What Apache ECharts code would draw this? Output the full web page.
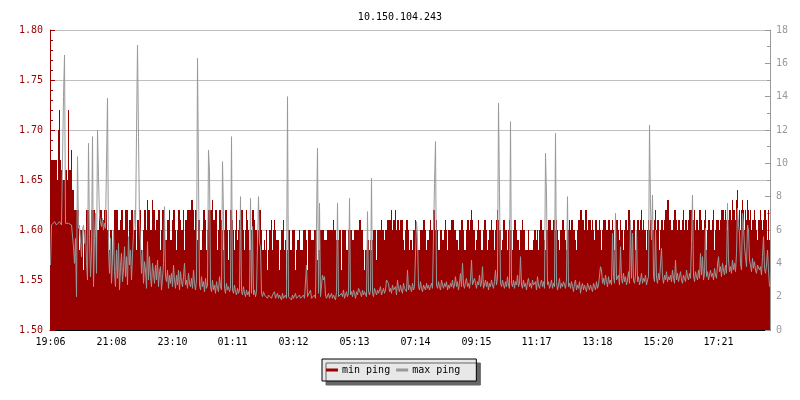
<!DOCTYPE html>
<html>
<head>
<meta charset="utf-8">
<script src="https://cdn.jsdelivr.net/npm/echarts@6/dist/echarts.min.js"></script>
<style>html,body{margin:0;padding:0;background:#fff;}#chart{width:800px;height:400px;}</style>
</head>
<body>
<div id="chart"></div>
<script>
const titleText = '10.150.104.243';
const tickLabels = ['19:06','21:08','23:10','01:11','03:12','05:13','07:14','09:15','11:17','13:18','15:20','17:21'];
const tickIndex = [0,61,122,182,243,304,365,426,486,547,608,668];

const minPing = [
1.76,1.67,1.67,1.67,1.67,1.67,1.67,1.65,1.70,1.72,1.67,1.66,1.65,1.65,1.65,1.66,1.66,1.65,1.72,1.66,
1.66,1.68,1.64,1.64,1.62,1.62,1.62,1.62,1.62,1.58,1.60,1.60,1.60,1.56,1.60,1.60,1.62,1.62,1.62,1.60,
1.60,1.62,1.62,1.62,1.62,1.60,1.56,1.60,1.60,1.62,1.62,1.62,1.61,1.61,1.62,1.62,1.62,1.60,1.60,1.58,
1.60,1.60,1.57,1.60,1.62,1.62,1.62,1.62,1.60,1.60,1.61,1.62,1.62,1.60,1.60,1.62,1.62,1.62,1.59,1.61,
1.61,1.62,1.62,1.60,1.60,1.62,1.58,1.61,1.61,1.62,1.62,1.58,1.58,1.60,1.62,1.62,1.60,1.63,1.62,1.62,
1.60,1.60,1.63,1.62,1.62,1.60,1.61,1.61,1.62,1.62,1.58,1.60,1.62,1.62,1.61,1.59,1.59,1.61,1.61,1.62,
1.59,1.59,1.61,1.62,1.62,1.60,1.58,1.60,1.62,1.62,1.61,1.60,1.60,1.62,1.58,1.61,1.61,1.62,1.62,1.62,
1.62,1.63,1.63,1.62,1.60,1.62,1.62,1.59,1.61,1.61,1.58,1.58,1.60,1.62,1.62,1.61,1.58,1.60,1.62,1.62,
1.62,1.62,1.63,1.61,1.61,1.62,1.62,1.58,1.60,1.62,1.62,1.61,1.60,1.58,1.60,1.62,1.62,1.60,1.57,1.60,
1.62,1.62,1.61,1.60,1.58,1.60,1.62,1.59,1.60,1.61,1.61,1.62,1.62,1.60,1.58,1.60,1.62,1.61,1.60,1.58,
1.58,1.60,1.62,1.62,1.61,1.60,1.60,1.58,1.60,1.62,1.62,1.60,1.58,1.58,1.59,1.58,1.60,1.56,1.58,1.60,
1.60,1.61,1.58,1.60,1.61,1.60,1.59,1.59,1.59,1.56,1.58,1.60,1.60,1.61,1.58,1.59,1.55,1.58,1.60,1.60,
1.58,1.58,1.60,1.60,1.60,1.56,1.58,1.59,1.59,1.60,1.58,1.58,1.58,1.60,1.60,1.60,1.59,1.56,1.60,1.60,
1.60,1.59,1.59,1.59,1.60,1.60,1.60,1.57,1.58,1.58,1.60,1.60,1.60,1.60,1.59,1.59,1.59,1.60,1.60,1.60,
1.60,1.60,1.60,1.61,1.60,1.60,1.59,1.59,1.59,1.60,1.60,1.56,1.60,1.60,1.60,1.60,1.58,1.58,1.60,1.60,
1.60,1.60,1.59,1.59,1.60,1.60,1.60,1.60,1.60,1.61,1.61,1.60,1.60,1.58,1.56,1.58,1.58,1.59,1.59,1.58,
1.59,1.58,1.59,1.60,1.60,1.60,1.57,1.60,1.60,1.60,1.60,1.61,1.60,1.60,1.59,1.60,1.60,1.61,1.61,1.61,
1.61,1.62,1.60,1.61,1.61,1.62,1.60,1.61,1.61,1.60,1.61,1.61,1.61,1.59,1.58,1.60,1.61,1.61,1.60,1.58,
1.59,1.59,1.58,1.60,1.60,1.61,1.60,1.58,1.58,1.58,1.60,1.60,1.60,1.61,1.61,1.60,1.58,1.59,1.59,1.60,
1.61,1.60,1.60,1.62,1.62,1.60,1.61,1.60,1.58,1.58,1.60,1.60,1.59,1.59,1.60,1.61,1.60,1.58,1.60,1.60,
1.60,1.61,1.61,1.61,1.60,1.60,1.59,1.59,1.58,1.60,1.60,1.61,1.61,1.60,1.58,1.58,1.60,1.61,1.61,1.60,
1.61,1.62,1.61,1.60,1.60,1.58,1.59,1.60,1.61,1.60,1.60,1.58,1.58,1.60,1.61,1.61,1.60,1.58,1.59,1.60,
1.60,1.61,1.60,1.60,1.58,1.60,1.61,1.62,1.61,1.60,1.60,1.58,1.59,1.61,1.61,1.60,1.60,1.58,1.60,1.61,
1.60,1.60,1.58,1.60,1.61,1.61,1.60,1.59,1.59,1.58,1.60,1.60,1.61,1.60,1.60,1.58,1.58,1.58,1.60,1.58,
1.58,1.58,1.58,1.59,1.60,1.60,1.59,1.60,1.58,1.60,1.61,1.61,1.60,1.60,1.59,1.58,1.60,1.60,1.61,1.61,
1.61,1.60,1.60,1.61,1.61,1.60,1.61,1.60,1.59,1.58,1.60,1.60,1.61,1.61,1.60,1.59,1.58,1.60,1.60,1.61,
1.60,1.61,1.61,1.60,1.60,1.59,1.58,1.60,1.61,1.61,1.62,1.62,1.61,1.61,1.60,1.62,1.62,1.60,1.61,1.61,
1.61,1.60,1.61,1.60,1.59,1.61,1.61,1.60,1.60,1.61,1.60,1.58,1.60,1.61,1.61,1.61,1.60,1.60,1.61,1.61,
1.60,1.60,1.61,1.60,1.58,1.60,1.61,1.61,1.60,1.59,1.61,1.60,1.60,1.58,1.60,1.61,1.61,1.60,1.62,1.62,
1.61,1.60,1.60,1.61,1.61,1.58,1.60,1.61,1.61,1.60,1.61,1.62,1.60,1.61,1.60,1.60,1.58,1.60,1.61,1.60,
1.61,1.61,1.60,1.60,1.61,1.62,1.60,1.61,1.61,1.58,1.60,1.61,1.61,1.60,1.61,1.62,1.62,1.63,1.63,1.61,
1.61,1.60,1.60,1.61,1.62,1.62,1.61,1.60,1.61,1.61,1.60,1.60,1.61,1.62,1.60,1.61,1.61,1.60,1.61,1.62,
1.62,1.62,1.61,1.61,1.62,1.60,1.61,1.61,1.60,1.62,1.62,1.61,1.60,1.60,1.61,1.62,1.58,1.60,1.61,1.61,
1.60,1.60,1.61,1.62,1.58,1.60,1.61,1.61,1.61,1.60,1.61,1.62,1.62,1.62,1.61,1.62,1.61,1.60,1.61,1.62,
1.62,1.61,1.63,1.62,1.62,1.61,1.63,1.64,1.61,1.62,1.60,1.62,1.63,1.62,1.60,1.62,1.61,1.63,1.62,1.61,
1.62,1.60,1.61,1.61,1.62,1.61,1.60,1.59,1.61,1.61,1.62,1.61,1.60,1.61,1.62,1.62,1.61,1.59,1.62,1.59
];

const maxPing = [
3.9,6.3,6.4,6.3,6.5,6.4,6.3,6.4,6.3,6.5,6.4,6.3,6.4,14.0,16.5,6.4,6.3,6.5,6.4,6.3,
6.4,6.3,6.2,5.0,4.0,5.5,2.0,10.4,6.1,6.3,6.2,4.4,6.0,6.3,5.2,6.0,4.1,3.0,11.2,5.6,
3.2,4.8,11.6,2.6,5.5,7.0,3.4,12.0,9.2,6.8,6.5,6.2,6.7,6.0,6.4,6.1,10.0,13.9,4.8,3.4,
5.5,2.8,4.2,6.0,3.5,2.6,4.8,3.1,5.2,2.4,3.8,4.6,2.9,3.6,5.0,3.2,4.4,2.7,5.6,3.9,
4.8,3.0,4.5,5.8,7.2,6.0,11.8,17.1,11.6,6.5,5.2,3.4,4.8,2.8,4.1,3.6,2.5,5.3,3.0,4.4,
3.2,2.6,4.0,3.4,2.8,3.9,3.0,4.2,2.6,3.5,3.8,2.4,3.1,4.0,7.4,3.2,2.9,3.6,2.5,3.3,
2.8,3.4,2.6,3.9,3.0,2.5,3.3,2.7,3.6,2.4,3.5,2.9,2.6,3.2,4.0,2.7,3.0,2.5,3.4,2.8,
2.6,3.1,2.5,3.6,2.8,2.4,3.0,16.3,9.3,2.7,2.4,3.2,2.6,2.9,2.3,3.1,2.5,2.7,10.8,9.5,
2.6,2.3,3.0,2.4,2.7,2.2,2.9,2.5,2.3,3.2,2.6,2.4,10.1,6.9,2.5,2.2,2.8,2.4,2.6,2.3,
2.5,11.6,2.4,2.2,2.7,2.3,2.1,2.5,2.2,2.4,8.0,2.3,2.1,2.6,2.2,2.0,2.4,2.1,2.3,2.0,
7.9,2.2,6.2,2.1,2.4,2.0,2.3,5.2,8.0,5.2,5.0,2.2,2.0,2.3,2.1,2.0,2.2,1.9,2.1,2.0,
2.2,1.9,2.1,2.0,2.3,1.9,2.0,2.2,1.9,2.1,2.0,1.8,2.2,1.9,2.0,2.1,1.9,14.0,2.0,1.9,
2.0,1.8,2.1,1.9,2.0,2.2,1.9,1.8,2.0,2.1,1.9,2.0,1.8,2.1,1.9,2.0,3.9,2.0,1.9,2.1,
2.4,1.9,2.0,1.8,2.1,1.9,2.0,10.9,2.2,7.6,2.0,1.9,3.3,3.0,3.2,2.1,1.9,2.0,2.2,1.9,
2.0,2.2,1.9,2.1,2.0,1.8,2.3,7.6,2.0,2.1,1.9,2.2,2.0,2.4,1.9,2.1,2.3,2.0,2.2,7.9,
2.1,2.3,2.0,2.4,2.2,1.9,2.3,2.1,2.5,2.6,2.2,2.0,2.4,2.1,2.3,2.2,2.0,7.1,2.3,2.1,
2.4,9.1,2.2,2.0,2.5,2.3,2.1,2.4,2.2,2.4,2.6,2.1,2.3,2.5,2.2,2.4,3.0,3.0,2.8,2.3,
2.5,2.2,2.7,2.4,2.3,2.6,2.1,3.0,2.5,2.3,2.7,2.4,2.2,2.8,2.5,2.6,2.3,3.6,2.4,2.7,
2.5,2.3,2.8,2.4,2.6,2.5,6.5,5.6,2.6,2.4,2.9,2.5,2.3,2.7,2.6,2.4,2.8,2.5,2.7,2.4,
2.6,2.8,2.5,2.4,8.8,11.3,2.7,2.5,2.9,2.6,2.4,3.0,2.7,2.5,2.8,2.6,2.9,2.4,2.7,2.5,
2.8,2.6,3.0,2.5,2.7,3.2,2.6,2.9,2.4,2.8,3.4,2.6,4.0,2.7,2.5,2.9,3.1,2.6,2.8,2.5,
3.0,4.2,2.7,2.6,3.1,2.8,2.5,2.9,2.7,3.3,2.6,2.8,3.8,2.5,2.7,3.0,2.6,2.9,2.4,2.8,
2.6,3.0,2.7,2.5,2.9,3.6,2.7,3.1,13.6,8.2,2.8,2.6,3.0,2.7,2.5,2.9,2.6,3.2,2.7,2.5,
12.5,2.8,2.6,3.0,2.5,2.9,2.7,3.3,2.6,2.8,4.4,2.7,2.5,3.0,2.6,2.8,2.4,2.9,3.1,2.6,
2.8,2.5,3.0,2.7,2.6,2.9,2.4,3.2,2.7,2.5,2.8,3.0,2.6,2.9,2.5,10.6,8.1,2.7,2.9,2.5,
2.7,3.0,2.5,2.8,2.6,11.8,2.9,2.4,2.7,3.1,2.5,2.8,2.6,2.9,2.7,2.5,3.0,8.0,2.6,2.8,
2.5,2.9,2.6,2.3,2.8,3.0,2.4,2.7,2.5,2.9,2.2,2.6,2.8,2.4,2.7,2.5,2.3,2.8,2.6,2.4,
2.7,2.5,2.3,2.8,2.6,2.4,2.9,2.5,2.7,2.6,3.8,3.6,2.8,3.1,2.7,3.3,2.9,2.6,3.2,2.8,
3.0,2.7,5.8,3.2,2.8,7.0,3.0,2.9,3.3,2.7,5.0,3.1,2.8,3.4,2.9,3.2,2.7,3.0,3.5,2.8,
6.6,3.1,5.8,3.0,2.8,3.3,6.0,2.9,3.2,2.7,3.0,3.4,2.8,3.1,2.9,3.3,2.7,3.0,3.2,12.3,
7.4,5.4,8.1,3.2,2.9,6.0,3.1,2.8,3.4,3.0,2.9,4.9,3.2,2.8,3.3,3.0,3.5,2.9,3.2,3.0,
3.3,2.9,3.6,3.1,2.8,4.2,3.0,3.4,2.9,3.2,3.5,3.0,2.8,3.3,3.1,2.9,3.6,3.2,3.0,3.4,
3.1,5.2,8.1,3.3,2.9,3.5,3.2,3.0,3.6,3.1,4.6,3.3,4.4,3.0,3.4,6.1,3.2,3.5,3.0,3.3,
3.6,3.2,3.4,3.0,3.7,3.3,3.1,3.9,4.4,3.5,3.8,3.2,4.0,3.6,3.3,3.9,3.4,7.6,4.2,3.5,
3.8,3.4,4.2,3.6,4.0,3.5,4.6,7.3,6.3,5.8,4.0,3.6,7.0,6.2,5.0,4.4,3.8,6.3,6.0,4.2,
3.9,3.5,4.3,3.7,4.1,3.6,3.4,3.9,4.0,3.6,3.8,3.3,4.4,5.6,3.7,3.4,3.9,4.8,3.6,2.6
];

const categories = minPing.map((_, i) => String(i));
const labelAt = {};
tickIndex.forEach((idx, k) => { labelAt[idx] = tickLabels[k]; });
const showTick = (idx) => labelAt[idx] !== undefined;

const MONO = '"DejaVu Sans Mono", "Liberation Mono", monospace';
const RED = '#990000';
const GRAY = '#999999';

const chart = echarts.init(document.getElementById('chart'), null, {renderer: 'canvas'});
chart.setOption({
  animation: false,
  backgroundColor: '#ffffff',
  title: {
    text: titleText, left: 'center', top: 7,
    textStyle: {fontFamily: MONO, fontSize: 10, fontWeight: 'normal', color: '#000'}
  },
  legend: {
    data: ['min ping', 'max ping'],
    left: 322, top: 359,
    padding: [6, 16, 6, 4],
    itemGap: 6, itemWidth: 12, itemHeight: 3, icon: 'rect',
    backgroundColor: '#e8e8e8', borderColor: '#000', borderWidth: 1,
    shadowColor: '#666666', shadowBlur: 0, shadowOffsetX: 4, shadowOffsetY: 4,
    textStyle: {fontFamily: MONO, fontSize: 10, color: '#000', padding: [0, 0, 0, -1]}
  },
  grid: {left: 50, right: 30, top: 30, bottom: 70, containLabel: false},
  xAxis: {
    type: 'category', data: categories, boundaryGap: true,
    axisLine: {lineStyle: {color: '#000', width: 1}},
    axisTick: {show: true, inside: true, length: 5, alignWithLabel: true, interval: showTick, lineStyle: {color: '#000'}},
    axisLabel: {interval: showTick, formatter: (v, idx) => labelAt[idx] || '', margin: 7,
      fontFamily: MONO, fontSize: 10, color: '#000', hideOverlap: false},
    splitLine: {show: false}
  },
  yAxis: [
    {
      type: 'value', min: 1.5, max: 1.8, interval: 0.05, position: 'left',
      axisLine: {show: true, lineStyle: {color: RED}},
      axisTick: {show: true, inside: true, length: 5, lineStyle: {color: RED}},
      minorTick: {show: true, splitNumber: 5, length: 3, lineStyle: {color: RED}},
      axisLabel: {formatter: v => v.toFixed(2), margin: 7, fontFamily: MONO, fontSize: 10, color: RED},
      splitLine: {show: true, lineStyle: {color: '#c0c0c0', width: 1}}
    },
    {
      type: 'value', min: 0, max: 18, interval: 2, position: 'right',
      axisLine: {show: true, lineStyle: {color: GRAY}},
      axisTick: {show: true, inside: true, length: 5, lineStyle: {color: GRAY}},
      minorTick: {show: true, splitNumber: 2, length: 3, lineStyle: {color: GRAY}},
      axisLabel: {margin: 6, fontFamily: MONO, fontSize: 10, color: GRAY},
      splitLine: {show: false}
    }
  ],
  series: [
    {
      name: 'min ping', type: 'bar', yAxisIndex: 0, data: minPing,
      barCategoryGap: '0%', barGap: '0%',
      itemStyle: {color: RED}, large: false, silent: true
    },
    {
      name: 'max ping', type: 'line', yAxisIndex: 1, data: maxPing,
      showSymbol: false, symbol: 'none', sampling: null,
      lineStyle: {color: GRAY, width: 1}, itemStyle: {color: GRAY}, silent: true
    }
  ]
});
</script>
</body>
</html>
